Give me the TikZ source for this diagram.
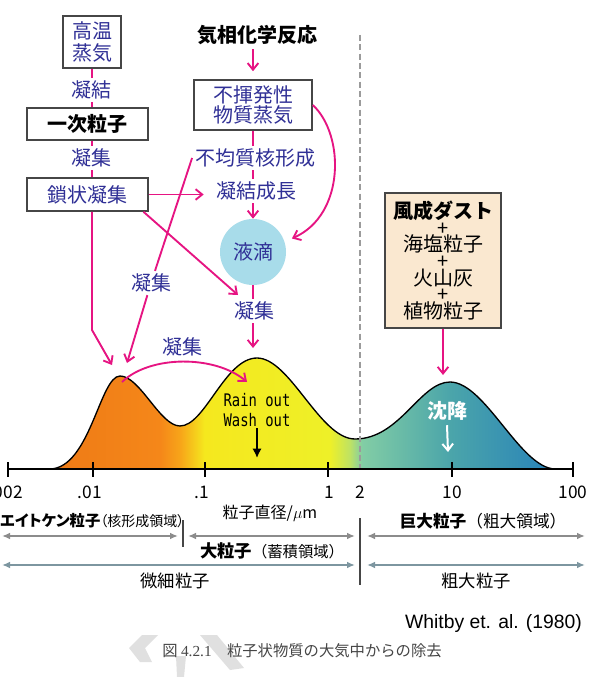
\documentclass[tikz,border=0pt]{standalone}
\usepackage{fontspec}
\usepackage{graphicx}
\usepackage{xcolor}
\usepackage{tikz}
\usetikzlibrary{arrows.meta}
\setmainfont{Noto Sans CJK JP}
\newfontfamily\kanafont[RawFeature=+palt]{Noto Sans CJK JP}
\newfontfamily\latinfont{Liberation Sans}
\newfontfamily\seriffont{Liberation Serif}
\newfontfamily\rainfont{DejaVu Sans Mono}
\definecolor{arrowpink}{RGB}{230,20,130}
\definecolor{labelblue}{RGB}{48,48,150}
\definecolor{boxline}{RGB}{70,70,70}
\definecolor{dustfill}{RGB}{250,232,208}
\definecolor{dropfill}{RGB}{168,220,234}
\definecolor{rangegray}{RGB}{140,140,140}
\definecolor{rangeblue}{RGB}{125,150,160}
\definecolor{capgray}{RGB}{70,70,70}
\definecolor{markgray}{RGB}{224,224,224}
\definecolor{dashgray}{RGB}{155,155,155}
\definecolor{sorange}{RGB}{238,122,22}
\definecolor{sorangeb}{RGB}{245,135,25}
\definecolor{samber}{RGB}{247,165,25}
\definecolor{syellow}{RGB}{245,232,30}
\definecolor{syellowb}{RGB}{238,240,40}
\definecolor{slime}{RGB}{190,226,100}
\definecolor{sgreen}{RGB}{130,205,165}
\definecolor{steal}{RGB}{75,165,170}
\definecolor{sblue}{RGB}{40,130,185}
\pgfdeclarehorizontalshading{sizeshade}{100bp}{color(0bp)=(sorange); color(25bp)=(sorange);
  color(35.9bp)=(sorangeb); color(37.9bp)=(samber); color(40.3bp)=(syellow);
  color(52.7bp)=(syellowb); color(54.7bp)=(slime); color(55.9bp)=(sgreen);
  color(64.6bp)=(steal); color(75bp)=(sblue); color(100bp)=(sblue)}

\begin{document}
\begin{tikzpicture}[
    x=0.75pt,
    y=-0.75pt,
    box/.style={
      draw=boxline,
      line width=1.2pt,
      fill=white,
      align=center,
      inner sep=2pt,
      text=labelblue,
      font=\fontsize{15}{16}\selectfont
    },
    tag/.style={fill=white, inner sep=2pt, text=labelblue, font=\fontsize{15}{17}\selectfont},
    link/.style={draw=arrowpink, line width=1.4pt},
    flow/.style={link, -{Straight Barb[length=5pt,width=8pt]}},
    sizebar/.style={{Latex[length=6pt,width=5pt]}-{Latex[length=6pt,width=5pt]}, line width=1.6pt},
    ticklbl/.style={font=\fontsize{13}{15}\selectfont, inner sep=1pt},
    note/.style={inner sep=1pt, font=\fontsize{13}{15}\selectfont}
  ]
  \useasboundingbox (0,0) rectangle (590,677);
  \fill[white] (0,0) rectangle (590,677);

  \shadedraw[shading=sizeshade, line width=1pt] (50,469)
    .. controls (90,468) and (100,376) .. (120,376)
    .. controls (140,376) and (160,426) .. (180,426)
    .. controls (205,426) and (225,358) .. (257,358)
    .. controls (290,358) and (320,439) .. (355,439)
    .. controls (400,439) and (420,382) .. (450,382)
    .. controls (485,382) and (520,468) .. (555,469) -- cycle;
  \draw[dashgray, line width=1.1pt, dash pattern=on 4.5pt off 2.5pt] (360,35) -- (360,469);
  \draw[line width=1pt] (8,469) -- (573,469);
  \foreach \x in {8,93,205,328,452,573}
    \draw[line width=1pt] (\x,462) -- (\x,477);
  \foreach \x/\t in {6/.002, 90/.01, 202/.1, 329/1, 360/2, 452/10, 573/100}
    \node[ticklbl] at (\x,492) {\t};

  \node[box, minimum width=43.5pt, minimum height=39pt, font=\fontsize{15}{16.5}\selectfont] (hv) at (92,42) {高温\\蒸気};
  \node[tag] (cond1) at (91,90) {凝結};
  \node[box, minimum width=90.75pt, minimum height=24pt, text=black, font=\bfseries\fontsize{15}{17}\selectfont] (prim) at (87.5,124) {一次粒子};
  \node[tag] (agg1) at (91,158) {凝集};
  \node[box, minimum width=90.75pt, minimum height=24.75pt] (chain) at (87.5,194.5) {鎖状凝集};

  \node[font=\bfseries\fontsize{15}{17}\selectfont] (gas) at (257,35) {気相化学反応};
  \node[box, minimum width=88.5pt, minimum height=37.5pt, font=\fontsize{15}{15.5}\selectfont] (vapor) at (253,105) {不揮発性\\物質蒸気};
  \node[tag] (hetero) at (255,158) {不均質核形成};
  \node[tag] (growth) at (256,191) {凝結成長};
  \node[circle, fill=dropfill, minimum size=49.5pt, inner sep=0pt, text=labelblue, font=\fontsize{15}{17}\selectfont] (drop) at (253,252) {液滴};
  \node[tag] (agg2) at (151,283) {凝集};
  \node[tag] (agg3) at (254,311) {凝集};
  \node[tag] (agg4) at (182,347) {凝集};

  \node[box, fill=dustfill, text=black, minimum width=87pt, minimum height=101pt,
    font={\fontsize{15}{12.5}\selectfont\lineskiplimit=-20pt}] (dust) at (443,260.5)
    {{\bfseries 風成ダスト}\\+\\海塩粒子\\+\\火山灰\\+\\植物粒子};

  \node[align=center, inner sep=1pt, font=\rainfont\fontsize{13}{15}\selectfont] (rain) at (257,410)
    {\scalebox{0.8}[1]{Rain out}\\\scalebox{0.8}[1]{Wash out}};
  \node[text=white, font=\bfseries\fontsize{15}{17}\selectfont] (settle) at (447,411) {沈降};

  \coordinate (inA) at (112,365);
  \coordinate (inB) at (127,363);
  \coordinate (inC) at (253,348);
  \coordinate (inD) at (238,295);
  \coordinate (arcL) at (122,382);
  \coordinate (arcR) at (247,382);
  \coordinate (seaT) at (443,375);
  \coordinate (wetT) at (257,458);
  \coordinate (dryT) at (448,452);
  \coordinate (bend) at (92,330);

  \draw[link] (hv.south) -- (hv.south |- cond1.north);
  \draw[link] (cond1.south -| hv.south) -- (prim.north -| hv.south);
  \draw[link] (prim.south -| hv.south) -- (agg1.north -| hv.south);
  \draw[link] (agg1.south -| hv.south) -- (chain.north -| hv.south);
  \draw[flow] (chain.south -| hv.south) -- (bend) -- (inA);
  \draw[flow, shorten >=7pt] (chain.east) -- (chain.east -| growth.west);
  \draw[flow] ([xshift=-4pt]chain.south east) -- (inD);

  \draw[flow, shorten >=6pt] (vapor.north |- gas.south) -- (vapor.north);
  \draw[link] (vapor.south) -- (vapor.south |- hetero.north);
  \draw[link] (hetero.south -| vapor.south) -- (growth.north -| vapor.south);
  \draw[flow] (growth.south -| vapor.south) -- (drop.north);
  \draw[flow, shorten >=6pt] (vapor.east) .. controls (345,135) and (345,215) .. (drop.18);
  \draw[link] (hetero.west) -- (agg2);
  \draw[flow] (agg2) -- (inB);
  \draw[link] (drop.south) -- (drop.south |- agg3.north);
  \draw[flow] (agg3.south -| drop.south) -- (inC);
  \draw[flow] (arcL) .. controls (150,355) and (215,355) .. (arcR);
  \draw[flow] (dust.south) -- (seaT);

  \draw[line width=2pt, -{Latex[length=7pt,width=7pt]}] (rain.south) -- (wetT);
  \draw[white, line width=1.5pt, -{Straight Barb[length=5pt,width=8pt]}] (settle.south) -- (dryT);

  \node[font=\fontsize{12}{14}\selectfont, inner sep=1pt] (dia) at (270,513) {粒子直径/$\mu$m};
  \node[anchor=west, inner sep=0pt] (aitken) at (0,521)
    {\kanafont\bfseries\fontsize{11.5}{14}\selectfont エイトケン粒子\mdseries\fontsize{10.5}{14}\selectfont （核形成領域）};
  \node[inner sep=1pt] (accum) at (272,551)
    {{\bfseries\fontsize{13}{15}\selectfont 大粒子}\fontsize{11.5}{15}\selectfont （蓄積領域）};
  \node[inner sep=1pt, font=\fontsize{12.5}{15}\selectfont] (giant) at (483,521) {{\bfseries 巨大粒子}（粗大領域）};
  \node[note] (fine) at (175,581) {微細粒子};
  \node[note] (coarse) at (476,581) {粗大粒子};

  \draw[boxline, line width=1.5pt] (183,520) -- (183,547);
  \draw[boxline, line width=1.5pt] (360,518) -- (360,585);
  \draw[sizebar, rangegray] (2,536) -- (178,536);
  \draw[sizebar, rangegray] (188,536) -- (355,536);
  \draw[sizebar, rangegray] (367,536) -- (585,536);
  \draw[sizebar, rangeblue] (2,565) -- (355,565);
  \draw[sizebar, rangeblue] (367,565) -- (585,565);

  \fill[markgray] (142,635) -- (158,635) -- (145,648) -- (152,662) -- (140,662) -- (129,648) -- cycle;
  \fill[markgray] (176,656) -- (186,656) -- (184,677) -- (177,677) -- cycle;
  \fill[markgray] (200,635) -- (217,635) -- (244,668) -- (230,670) -- cycle;

  \node[anchor=east, inner sep=0pt, font=\latinfont\fontsize{14.5}{17}\selectfont] (src) at (582,623) {Whitby et. al. (1980)};
  \node[text=capgray, inner sep=0pt, font=\fontsize{11.5}{14}\selectfont] (cap) at (302,651)
    {図 {\seriffont 4.2.1}\quad 粒子状物質の大気中からの除去};
\end{tikzpicture}
\end{document}
